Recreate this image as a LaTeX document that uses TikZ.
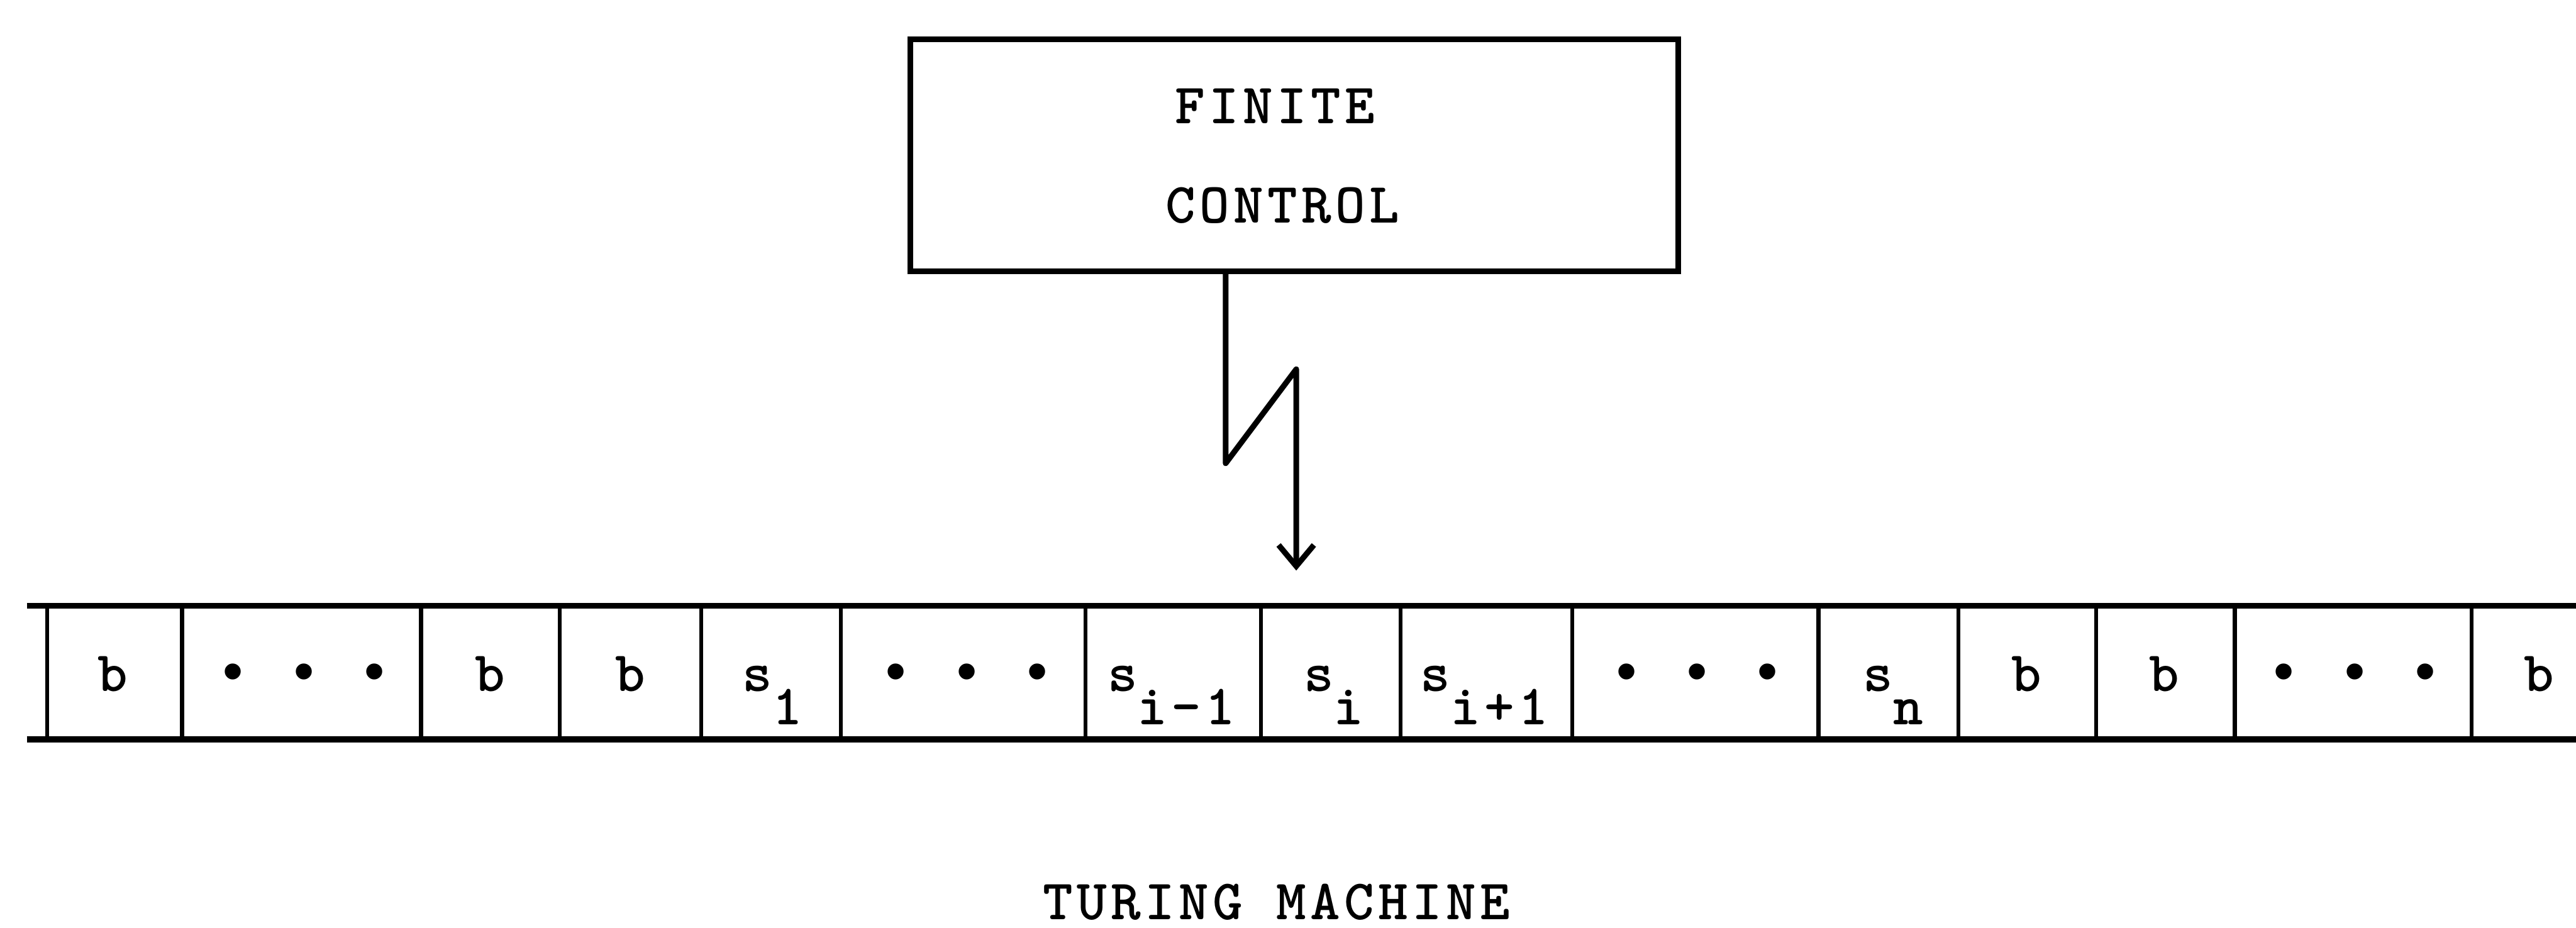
\documentclass[tikz,border=0pt]{standalone}
\usepackage{fontspec}
\setmainfont{Liberation Mono}
\newfontfamily\twfont{lmmonolt10-bold}[Extension=.otf,LetterSpace=7]
\usetikzlibrary{arrows.meta}

\newcommand{\tmfont}{\twfont\fontsize{34.5}{60}\selectfont}
\newcommand{\tsub}[1]{\raisebox{-0.70cm}{#1}}
\newcommand{\tdots}{{\rmfamily\fontsize{35.6}{60}\selectfont • • •}}

\tikzset{
  boxline/.style={line width=3.4pt},
  tapeline/.style={line width=3.7pt},
  divider/.style={line width=2.4pt},
  celltext/.style={anchor=base,inner sep=0pt,font=\tmfont},
}

\begin{document}
\begin{tikzpicture}
\useasboundingbox (0,0) rectangle (54.75,-19.72);

% finite control
\node[draw,boxline,minimum width=16.32cm,minimum height=4.94cm] (fc) at (27.51,-3.30) {};
\node[celltext] (fin) at (27.10,-2.63) {FINITE};
\node[celltext] (ctl) at (27.26,-4.74) {CONTROL};

% tape
\draw[tapeline] (0.57,-12.88) -- (54.75,-12.88);
\draw[tapeline] (0.57,-15.72) -- (54.75,-15.72);
\foreach \x in {1.00,3.87,8.95,11.90,14.90,17.87,23.07,26.80,29.77,33.42,38.65,41.62,44.55,47.50,52.53}
  \draw[divider] (\x,-12.88) -- (\x,-15.72);

\foreach \x/\t [count=\i] in {2.40/b, 6.46/\tdots, 10.42/b, 13.40/b, 16.42/{s\tsub{1}},
    20.55/\tdots, 24.90/{s\tsub{i-1}}, 28.35/{s\tsub{i}}, 31.55/{s\tsub{i+1}},
    36.07/\tdots, 40.24/{s\tsub{n}}, 43.07/b, 46.00/b, 50.05/\tdots, 53.97/b}
  \node[celltext] (c\i) at (\x,-14.70) {\t};

% read head
\coordinate (head) at (27.55,-12.13);
\draw[boxline,line join=round,-{Straight Barb[length=0.45cm,width=0.75cm]}]
  ([xshift=-1.46cm]fc.south) -- ++(0,-4.02) -- (27.55,-7.85) -- (head);

\node[celltext] (title) at (27.13,-19.55) {TURING MACHINE};
\end{tikzpicture}
\end{document}
